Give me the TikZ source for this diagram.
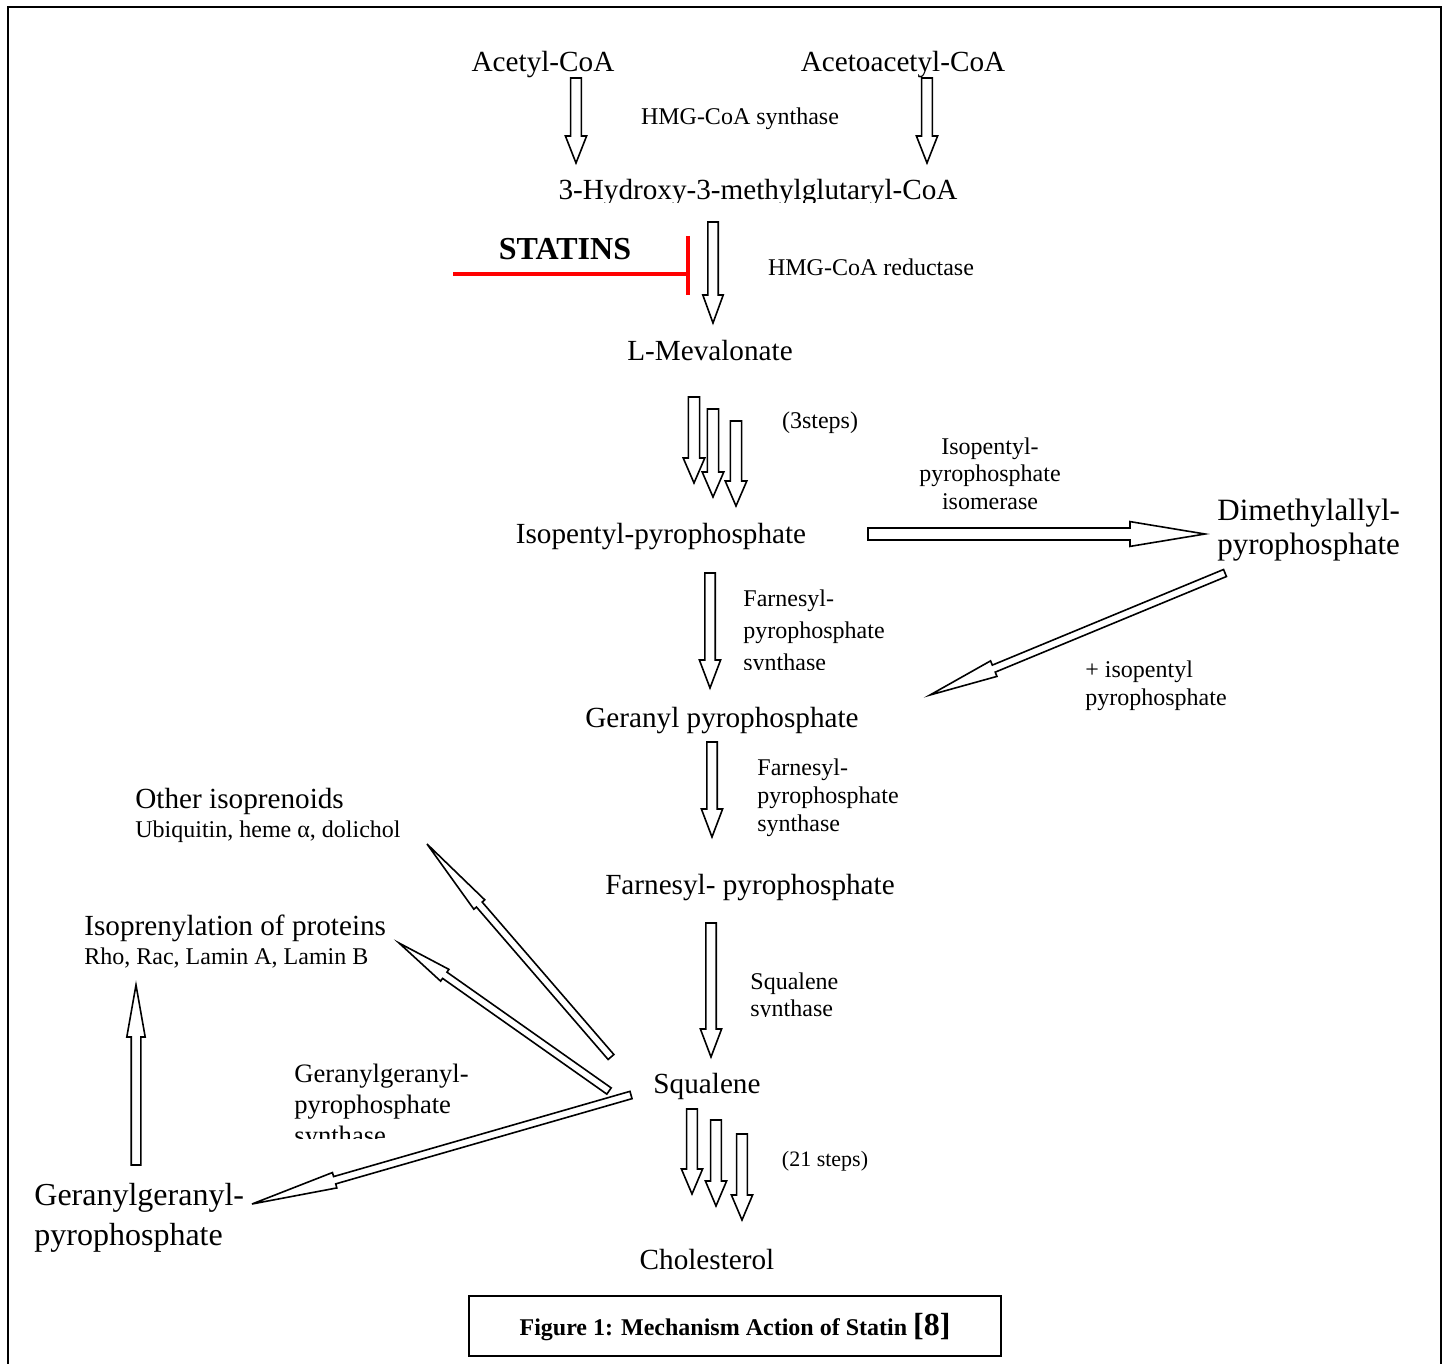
\documentclass[tikz,border=0pt]{standalone}
\usepackage{fontspec}
\setmainfont{Liberation Serif}
\usetikzlibrary{calc}

% hollow block arrow from #1 to #2: shaft half width #3, head half width #4, head length #5
\newcommand{\hollowarrow}[5]{%
  \draw[blockarrow] ($(#1)!#3!90:(#2)$) -- ($(#2)!#5!(#1)!#3!-90:(#1)$)
    -- ($(#2)!#5!(#1)!#4!-90:(#1)$) -- (#2)
    -- ($(#2)!#5!(#1)!#4!90:(#1)$) -- ($(#2)!#5!(#1)!#3!90:(#1)$)
    -- ($(#1)!#3!-90:(#2)$) -- cycle;}

\tikzset{
  compound/.style={inner sep=0pt, anchor=base, font=\fontsize{14.6}{17}\selectfont},
  product/.style={inner sep=0pt, anchor=north west, align=left, font=\fontsize{#1}{20}\selectfont},
  product/.default=16,
  enzyme/.style={inner sep=0pt, anchor=north west, align=left, font=\fontsize{12}{#1}\selectfont},
  enzyme/.default=14,
  note/.style={inner sep=0pt, anchor=base, font=\fontsize{12}{14}\selectfont},
  statin/.style={inner sep=0pt, anchor=base, font=\fontsize{16}{18}\selectfont\bfseries},
  blockarrow/.style={draw, fill=white, line width=0.8pt, line join=miter},
  inhibit/.style={draw=red, line width=2.4pt},
  frame/.style={draw, line width=1pt}
}

\begin{document}
\begin{tikzpicture}[x=0.5pt, y=-0.5pt]
  \useasboundingbox (0,0) rectangle (1447,1364);

  % Frame
  \draw[frame] (8,1364) -- (8,7) -- (1441,7) -- (1441,1364);

  % Main pathway
  \node[compound] (acetyl) at (543,72) {Acetyl-CoA};
  \node[compound] (acetoacetyl) at (903,72) {Acetoacetyl-CoA};
  \node[note] (hmgs) at (740,125) {HMG-CoA synthase};
  \begin{scope}
    \clip (500,150) rectangle (1000,203);
    \node[compound] (hmgcoa) at (758,200) {3-Hydroxy-3-methylglutaryl-CoA};
  \end{scope}
  \node[statin] (statins) at (565,260) {STATINS};
  \node[note] (hmgr) at (871,276) {HMG-CoA reductase};
  \node[compound] (mevalonate) at (710,361) {L-Mevalonate};
  \node[note] (threesteps) at (820,429) {(3steps)};
  \node[compound] (ipp) at (661,543) {Isopentyl-pyrophosphate};
  \node[enzyme=13.75, align=center, anchor=north] (ippi) at (990,437)
    {Isopentyl-\\pyrophosphate\\isomerase};
  \node[product=15.5, font=\fontsize{15.5}{17}\selectfont] (dmapp) at (1217,499)
    {Dimethylallyl-\\pyrophosphate};
  \node[enzyme] (plusipp) at (1085,660) {+ isopentyl\\pyrophosphate};
  \begin{scope}
    \clip (730,570) rectangle (950,669);
    \node[enzyme=16] (fpps1) at (743,589) {Farnesyl-\\pyrophosphate\\synthase};
  \end{scope}
  \node[compound] (gpp) at (722,727) {Geranyl pyrophosphate};
  \node[enzyme] (fpps2) at (757,758) {Farnesyl-\\pyrophosphate\\synthase};
  \node[compound] (fpp) at (750,894) {Farnesyl- pyrophosphate};
  \begin{scope}
    \clip (730,950) rectangle (900,1016);
    \node[enzyme=13.5] (sqs) at (750,972) {Squalene\\synthase};
  \end{scope}
  \node[compound] (squalene) at (707,1093) {Squalene};
  \node[note, font=\fontsize{11}{13}\selectfont] (steps21) at (825,1166) {(21 steps)};
  \node[compound] (cholesterol) at (707,1269) {Cholesterol};

  % Side branches
  \node[compound, anchor=base west] (other) at (135,808) {Other isoprenoids};
  \node[note, anchor=base west] (otherlist) at (135,837) {Ubiquitin, heme α, dolichol};
  \node[compound, anchor=base west] (isoprenyl) at (84,935) {Isoprenylation of proteins};
  \node[note, anchor=base west] (isoprenyllist) at (84,964) {Rho, Rac, Lamin A, Lamin B};
  \node[product] (ggpp) at (34,1183) {Geranylgeranyl-\\pyrophosphate};
  \begin{scope}
    \clip (280,1050) rectangle (520,1138);
    \node[product=13.3, font=\fontsize{13.3}{15.5}\selectfont] (ggpps) at (294,1064)
      {Geranylgeranyl-\\pyrophosphate\\synthase};
  \end{scope}

  % Caption
  \node[draw, line width=0.75pt, minimum width=266pt, minimum height=30pt, inner sep=0pt]
    (caption) at (735,1326) {};
  \node[inner sep=0pt, anchor=base, font=\fontsize{12}{14}\selectfont\bfseries] (captext)
    at (735,1335) {Figure 1: Mechanism Action of Statin {\fontsize{16}{18}\selectfont[8]}};

  % Arrow ends
  \coordinate (acS) at (576,78);   \coordinate (acE) at (576,163);
  \coordinate (aaS) at (927,78);   \coordinate (aaE) at (927,163);
  \coordinate (hmS) at (713,222);  \coordinate (hmE) at (713,323);
  \coordinate (ipS) at (868,534);  \coordinate (ipE) at (1205,534);
  \coordinate (dmS) at (1225,573); \coordinate (dmE) at (930,695);
  \coordinate (gpS) at (710,573);  \coordinate (gpE) at (710,688);
  \coordinate (fpS) at (712,742);  \coordinate (fpE) at (712,837);
  \coordinate (sqS) at (711,923);  \coordinate (sqE) at (711,1057);
  \coordinate (otS) at (611,1057); \coordinate (otE) at (427,844);
  \coordinate (prS) at (609,1091); \coordinate (prE) at (399,943);
  \coordinate (ggS) at (631,1095); \coordinate (ggE) at (252,1204);
  \coordinate (upS) at (136,1165); \coordinate (upE) at (136,985);

  % Block arrows
  \hollowarrow{acS}{acE}{2.7pt}{5.3pt}{13.5pt}
  \hollowarrow{aaS}{aaE}{2.7pt}{5.3pt}{13.5pt}
  \hollowarrow{hmS}{hmE}{2.6pt}{5.1pt}{14pt}
  \foreach \i/\x/\ya/\yb in {1/694/397/483, 2/713/409/497, 3/736/421/506} {
    \coordinate (mv\i) at (\x,\ya);
    \coordinate (mw\i) at (\x,\yb);
    \hollowarrow{mv\i}{mw\i}{2.8pt}{5.4pt}{12.5pt}
  }
  \hollowarrow{ipS}{ipE}{3pt}{6.2pt}{37.5pt}
  \hollowarrow{dmS}{dmE}{1.9pt}{4.2pt}{34.5pt}
  \hollowarrow{gpS}{gpE}{2.6pt}{5.3pt}{14pt}
  \hollowarrow{fpS}{fpE}{2.6pt}{5.3pt}{14pt}
  \hollowarrow{sqS}{sqE}{2.6pt}{5.3pt}{14pt}
  \foreach \i/\x/\ya/\yb in {1/692/1109/1194, 2/716/1120/1206, 3/742/1134/1220} {
    \coordinate (ch\i) at (\x,\ya);
    \coordinate (ci\i) at (\x,\yb);
    \hollowarrow{ch\i}{ci\i}{2.7pt}{5.3pt}{12.5pt}
  }
  \hollowarrow{otS}{otE}{1.9pt}{3.6pt}{40pt}
  \hollowarrow{prS}{prE}{1.9pt}{3.6pt}{28pt}
  \hollowarrow{ggS}{ggE}{1.9pt}{4pt}{43pt}
  \hollowarrow{upS}{upE}{2.4pt}{4.6pt}{26pt}

  % Statin inhibition
  \coordinate (inhA) at (453,274);
  \coordinate (inhB) at (688,274);
  \coordinate (barT) at (688,236);
  \coordinate (barB) at (688,295);
  \draw[inhibit] (inhA) -- (inhB);
  \draw[inhibit] (barT) -- (barB);
\end{tikzpicture}
\end{document}
